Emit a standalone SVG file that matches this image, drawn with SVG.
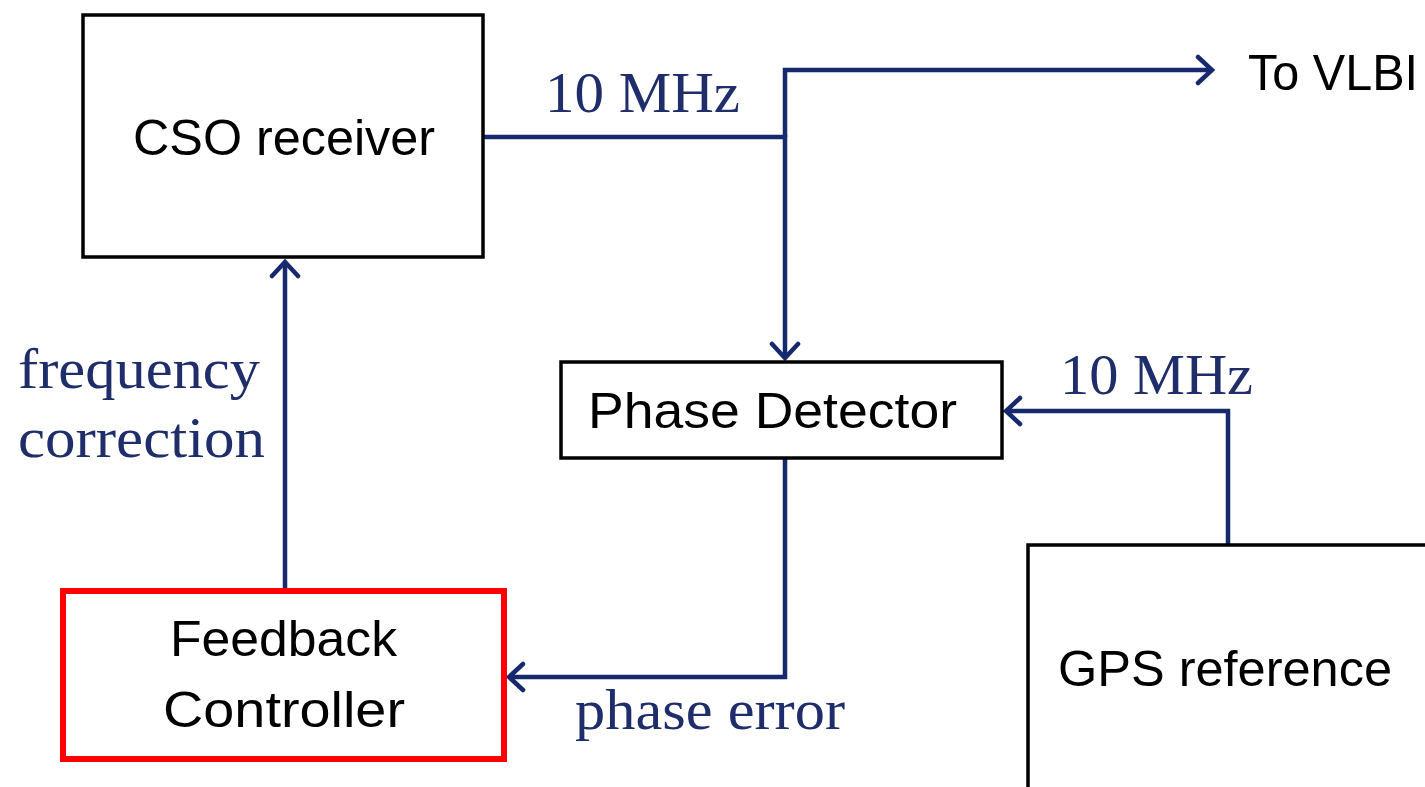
<svg xmlns="http://www.w3.org/2000/svg" width="1425" height="787" viewBox="0 0 1425 787">
<defs>
<style>
.box{fill:#fff;stroke:#000;stroke-width:3.5}
.red{fill:#fff;stroke:#f00;stroke-width:6}
.lbl{font-family:"Liberation Sans",Arial,sans-serif;fill:#000;font-size:50px}
.sig{font-family:"Liberation Serif","Times New Roman",serif;fill:#1f2d6b;font-size:58px}
.wire{fill:none;stroke:#16296e;stroke-width:4.5;stroke-linejoin:miter}
</style>
<marker id="arr" viewBox="0 0 20 32" refX="17" refY="16" markerWidth="20" markerHeight="32" markerUnits="userSpaceOnUse" orient="auto">
<path d="M3,3 L17,16 L3,29" fill="none" stroke="#16296e" stroke-width="4.5" stroke-linecap="round" stroke-linejoin="miter"/>
</marker>
</defs>
<rect width="1425" height="787" fill="#fff"/>
<g id="connectors">
<path class="wire" d="M483,137 H785 V358" marker-end="url(#arr)"/>
<path class="wire" d="M785,137 V70 H1212" marker-end="url(#arr)"/>
<path class="wire" d="M1228,545 V411 H1006" marker-end="url(#arr)"/>
<path class="wire" d="M785,458 V677 H509" marker-end="url(#arr)"/>
<path class="wire" d="M285,590 V262" marker-end="url(#arr)"/>
</g>
<g id="cso">
<rect class="box" x="83" y="15" width="400" height="242"/>
<text class="lbl" x="133" y="155" textLength="302" lengthAdjust="spacingAndGlyphs">CSO receiver</text>
</g>
<g id="phase-detector">
<rect class="box" x="561" y="362" width="441" height="96"/>
<text class="lbl" x="588" y="428" textLength="369" lengthAdjust="spacingAndGlyphs">Phase Detector</text>
</g>
<g id="feedback">
<rect class="red" x="63" y="591" width="441" height="168"/>
<text class="lbl" x="170" y="656" textLength="227" lengthAdjust="spacingAndGlyphs">Feedback</text>
<text class="lbl" x="163" y="727" textLength="242" lengthAdjust="spacingAndGlyphs">Controller</text>
</g>
<g id="gps">
<rect class="box" x="1028" y="545" width="410" height="260"/>
<text class="lbl" x="1058" y="686" textLength="334" lengthAdjust="spacingAndGlyphs">GPS reference</text>
</g>
<g id="labels">
<text class="lbl" x="1248" y="90" textLength="170" lengthAdjust="spacingAndGlyphs">To VLBI</text>
<text class="sig" x="545" y="112" textLength="195" lengthAdjust="spacingAndGlyphs">10 MHz</text>
<text class="sig" x="1060" y="394" textLength="193" lengthAdjust="spacingAndGlyphs">10 MHz</text>
<text class="sig" x="18" y="388" textLength="242" lengthAdjust="spacingAndGlyphs">frequency</text>
<text class="sig" x="18" y="457" textLength="247" lengthAdjust="spacingAndGlyphs">correction</text>
<text class="sig" x="575" y="729" textLength="270" lengthAdjust="spacingAndGlyphs">phase error</text>
</g>
</svg>
